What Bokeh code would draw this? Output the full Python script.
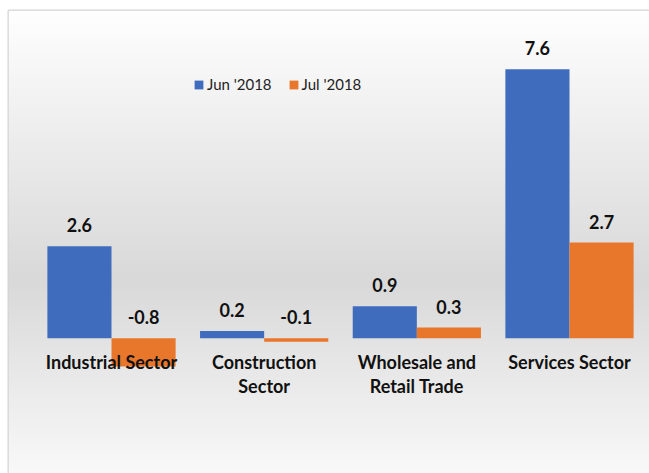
import numpy as np
from bokeh.plotting import figure
from bokeh.models import Legend, LegendItem, ColumnDataSource, Range1d
from bokeh.core.properties import value
from bokeh.embed import file_html
from bokeh.resources import INLINE

categories = ["Industrial Sector", "Construction\nSector", "Wholesale and\nRetail Trade", "Services Sector"]
series_names = ["Jun '2018", "Jul '2018"]
jun_values = [2.6, 0.2, 0.9, 7.6]
jul_values = [-0.8, -0.1, 0.3, 2.7]

BLUE = "#3f6cbd"
ORANGE = "#e8772c"
FONT = "Lato"

W, Hgt = 649, 473
x0, x1 = -0.6747, 3.524
y0, y1 = -3.822, 9.257

p = figure(width=W, height=Hgt, output_backend="svg", toolbar_location=None,
           x_range=Range1d(x0, x1), y_range=Range1d(y0, y1),
           min_border_left=8, min_border_right=0, min_border_top=10, min_border_bottom=0)
p.axis.visible = False
p.grid.visible = False
p.border_fill_color = "white"
p.outline_line_color = "#d4d4d4"
p.outline_line_width = 2

# background gradient (styling)
H = 464
rows = np.arange(H)
page_y = 473 - (rows + 0.5) * (463 / H)
stops_y = [10, 280, 473]
stops_v = [255, 217, 249]
g = np.interp(page_y, stops_y, stops_v).astype(np.uint32)
img = (255 << 24) | (g << 16) | (g << 8) | g
img = img.reshape(H, 1).astype(np.uint32)
p.image_rgba(image=[img], x=x0, y=y0, dw=x1 - x0, dh=y1 - y0)

idx = np.arange(len(categories))
off = 0.21
bw = 0.42
src = ColumnDataSource(dict(
    xj=idx - off, xl=idx + off, jun=jun_values, jul=jul_values,
    jun_lbl=[f"{v:.1f}" for v in jun_values], jul_lbl=[f"{v:.1f}" for v in jul_values],
    jun_top=[max(v, 0) for v in jun_values], jul_top=[max(v, 0) for v in jul_values],
))
r1 = p.vbar(x="xj", top="jun", bottom=0, width=bw, source=src, fill_color=BLUE, line_color=None)
r2 = p.vbar(x="xl", top="jul", bottom=0, width=bw, source=src, fill_color=ORANGE, line_color=None)

for xc, yc, tc in (("xj", "jun_top", "jun_lbl"), ("xl", "jul_top", "jul_lbl")):
    p.text(x=xc, y=yc, text=tc, source=src, text_align="center", text_baseline="alphabetic",
           y_offset=-21, text_font=value(FONT), text_font_style="bold",
           text_font_size="18px", text_color="#111111")

p.text(x=idx, y=[0] * len(categories), text=categories, text_align="center",
       text_baseline="top", y_offset=13, text_font=value(FONT), text_font_style="bold",
       text_font_size="18px", text_color="#111111", text_line_height=1.1)

legend = Legend(items=[LegendItem(label=series_names[0], renderers=[r1]),
                       LegendItem(label=series_names[1], renderers=[r2])],
                orientation="horizontal", location=(185, 380), padding=0, margin=0,
                spacing=16, glyph_width=11, glyph_height=11, label_standoff=3,
                background_fill_alpha=0, border_line_color=None,
                label_text_font=FONT, label_text_font_size="15px", label_text_color="#222222")
p.add_layout(legend, "center")

open("out.html", "w").write(file_html(p, INLINE))
